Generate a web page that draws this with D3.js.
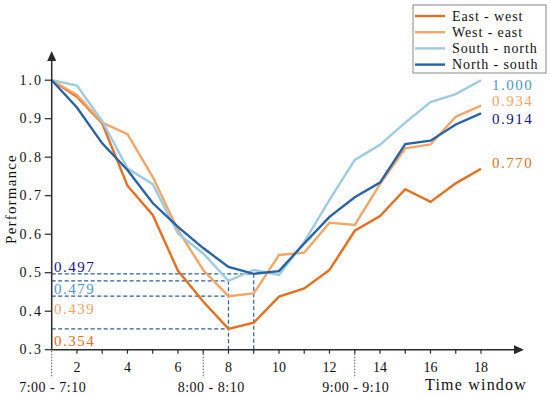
<!DOCTYPE html>
<html>
<head>
<meta charset="utf-8">
<script src="https://cdn.jsdelivr.net/npm/d3@7"></script>
<style>
  body { margin: 0; background: #fff; }
  text { font-family: "Liberation Serif", "DejaVu Serif", serif; }
</style>
</head>
<body>
<svg id="chart" width="550" height="397"></svg>
<script>
// time windows 1..18
var windows = d3.range(1, 19);
var seriesNames = ["East - west", "West - east", "South - north", "North - south"];
var colors = ["#e6701f", "#f5a566", "#9dcbe0", "#2763a6"];
var labelColors = ["#e6701f", "#f5a566", "#4f96cc", "#14148c"];

var eastWest   = [1.000, 0.957, 0.888, 0.726, 0.650, 0.505, 0.425, 0.354, 0.370, 0.438, 0.459, 0.507, 0.609, 0.647, 0.717, 0.684, 0.732, 0.770];
var westEast   = [1.000, 0.962, 0.890, 0.860, 0.749, 0.611, 0.507, 0.439, 0.446, 0.546, 0.552, 0.630, 0.624, 0.730, 0.823, 0.833, 0.905, 0.934];
var southNorth = [1.000, 0.986, 0.894, 0.771, 0.730, 0.602, 0.550, 0.479, 0.507, 0.494, 0.580, 0.689, 0.793, 0.832, 0.890, 0.943, 0.964, 1.000];
var northSouth = [1.000, 0.929, 0.836, 0.767, 0.681, 0.619, 0.564, 0.515, 0.497, 0.504, 0.576, 0.645, 0.696, 0.734, 0.834, 0.843, 0.885, 0.914];
var allSeries = [eastWest, westEast, southNorth, northSouth];

// minimum markers: value and time window where it is reached
var minValues = [0.354, 0.439, 0.479, 0.497];
var minWindows = [8, 8, 8, 9];
var endValues = ["0.770", "0.934", "1.000", "0.914"];

var yTicks = [0.3, 0.4, 0.5, 0.6, 0.7, 0.8, 0.9, 1.0];
var xTicks = d3.range(1, 19);
var periodTicks = [1, 7, 13];
var periodLabels = ["7:00 - 7:10", "8:00 - 8:10", "9:00 - 9:10"];

var svg = d3.select("svg");

var x = d3.scaleLinear().domain([1, 18]).range([51.7, 481]);
var y = d3.scaleLinear().domain([0.3, 1.0]).range([349.7, 80.2]);

// dashed guide lines to minima
var guides = svg.append("g")
    .attr("stroke", "#2a5fa0")
    .attr("stroke-width", 1.2)
    .attr("stroke-dasharray", "4,2.5")
    .attr("fill", "none");
minValues.forEach(function (v, i) {
    guides.append("line")
        .attr("x1", x(1)).attr("x2", x(minWindows[i]))
        .attr("y1", y(v)).attr("y2", y(v));
});
guides.append("line")
    .attr("x1", x(8)).attr("x2", x(8))
    .attr("y1", y(0.479)).attr("y2", y(0.3));
guides.append("line")
    .attr("x1", x(9)).attr("x2", x(9))
    .attr("y1", y(0.497)).attr("y2", y(0.3));

// lines
var line = d3.line()
    .x(function (d, i) { return x(windows[i]); })
    .y(function (d) { return y(d); });

allSeries.forEach(function (s, i) {
    svg.append("path")
        .datum(s)
        .attr("fill", "none")
        .attr("stroke", colors[i])
        .attr("stroke-width", 2.4)
        .attr("stroke-linejoin", "miter")
        .attr("d", line);
});

// axes
var axisColor = "#2a2a2a";
var axes = svg.append("g").attr("stroke", axisColor).attr("stroke-width", 1.5);
axes.append("line").attr("x1", x(1)).attr("x2", 517).attr("y1", y(0.3)).attr("y2", y(0.3));
axes.append("line").attr("x1", x(1)).attr("x2", x(1)).attr("y1", y(0.3)).attr("y2", 58);
svg.append("path")
    .attr("d", "M524," + y(0.3) + " L514," + (y(0.3) - 4.5) + " L514," + (y(0.3) + 4.5) + " Z")
    .attr("fill", axisColor);
svg.append("path")
    .attr("d", "M" + x(1) + ",51 L" + (x(1) - 4.5) + ",61 L" + (x(1) + 4.5) + ",61 Z")
    .attr("fill", axisColor);

// y ticks
yTicks.forEach(function (t) {
    svg.append("line")
        .attr("x1", x(1) - 7).attr("x2", x(1))
        .attr("y1", y(t)).attr("y2", y(t))
        .attr("stroke", axisColor).attr("stroke-width", 1.2);
    svg.append("text")
        .attr("x", 43).attr("y", y(t) + 4.5)
        .attr("text-anchor", "end")
        .attr("font-size", 14)
        .attr("letter-spacing", 2)
        .attr("fill", "#111")
        .text(d3.format(".1f")(t));
});

// x ticks
xTicks.forEach(function (t) {
    if (t === 1) return;
    svg.append("line")
        .attr("x1", x(t)).attr("x2", x(t))
        .attr("y1", y(0.3)).attr("y2", y(0.3) + 4)
        .attr("stroke", axisColor).attr("stroke-width", 1.2);
    if (t % 2 === 0) {
        svg.append("text")
            .attr("x", x(t)).attr("y", 372)
            .attr("text-anchor", "middle")
            .attr("font-size", 14)
            .attr("fill", "#111")
            .text(t);
    }
});

// period markers
periodTicks.forEach(function (t, i) {
    svg.append("line")
        .attr("x1", x(t)).attr("x2", x(t))
        .attr("y1", y(0.3) + 1).attr("y2", 378)
        .attr("stroke", "#555").attr("stroke-width", 1)
        .attr("stroke-dasharray", "1.5,1.5");
    svg.append("text")
        .attr("x", x(t) + (i === 1 ? 8 : 1)).attr("y", 392)
        .attr("text-anchor", "middle")
        .attr("font-size", 14)
        .attr("letter-spacing", 0.5)
        .attr("fill", "#111")
        .text(periodLabels[i]);
});

svg.append("text")
    .attr("x", 527).attr("y", 390)
    .attr("text-anchor", "end")
    .attr("font-size", 16)
    .attr("letter-spacing", 1.2)
    .attr("fill", "#111")
    .text("Time window");

svg.append("text")
    .attr("transform", "translate(16,199) rotate(-90)")
    .attr("text-anchor", "middle")
    .attr("font-size", 15)
    .attr("letter-spacing", 1.2)
    .attr("fill", "#111")
    .text("Performance");

// minimum labels (left)
var minLabelY = [346, 314, 294, 272];
minValues.forEach(function (v, i) {
    svg.append("text")
        .attr("x", 54).attr("y", minLabelY[i])
        .attr("font-size", 15)
        .attr("letter-spacing", 1.5)
        .attr("fill", labelColors[i])
        .text(d3.format(".3f")(v));
});

// end labels (right)
var endLabelY = [168, 106, 90, 124];
endValues.forEach(function (v, i) {
    svg.append("text")
        .attr("x", 492).attr("y", endLabelY[i])
        .attr("font-size", 15)
        .attr("letter-spacing", 1.5)
        .attr("fill", labelColors[i])
        .text(v);
});

// legend
var legend = svg.append("g").attr("transform", "translate(413,5)");
legend.append("rect")
    .attr("width", 133).attr("height", 68)
    .attr("fill", "#fff")
    .attr("stroke", "#888").attr("stroke-width", 1);
seriesNames.forEach(function (name, i) {
    var ly = 11 + i * 16.2;
    legend.append("line")
        .attr("x1", 2).attr("x2", 32)
        .attr("y1", ly).attr("y2", ly)
        .attr("stroke", colors[i]).attr("stroke-width", 2.4);
    legend.append("text")
        .attr("x", 39).attr("y", ly + 4.5)
        .attr("font-size", 14)
        .attr("letter-spacing", 0.9)
        .attr("fill", "#111")
        .text(name);
});
</script>
</body>
</html>
